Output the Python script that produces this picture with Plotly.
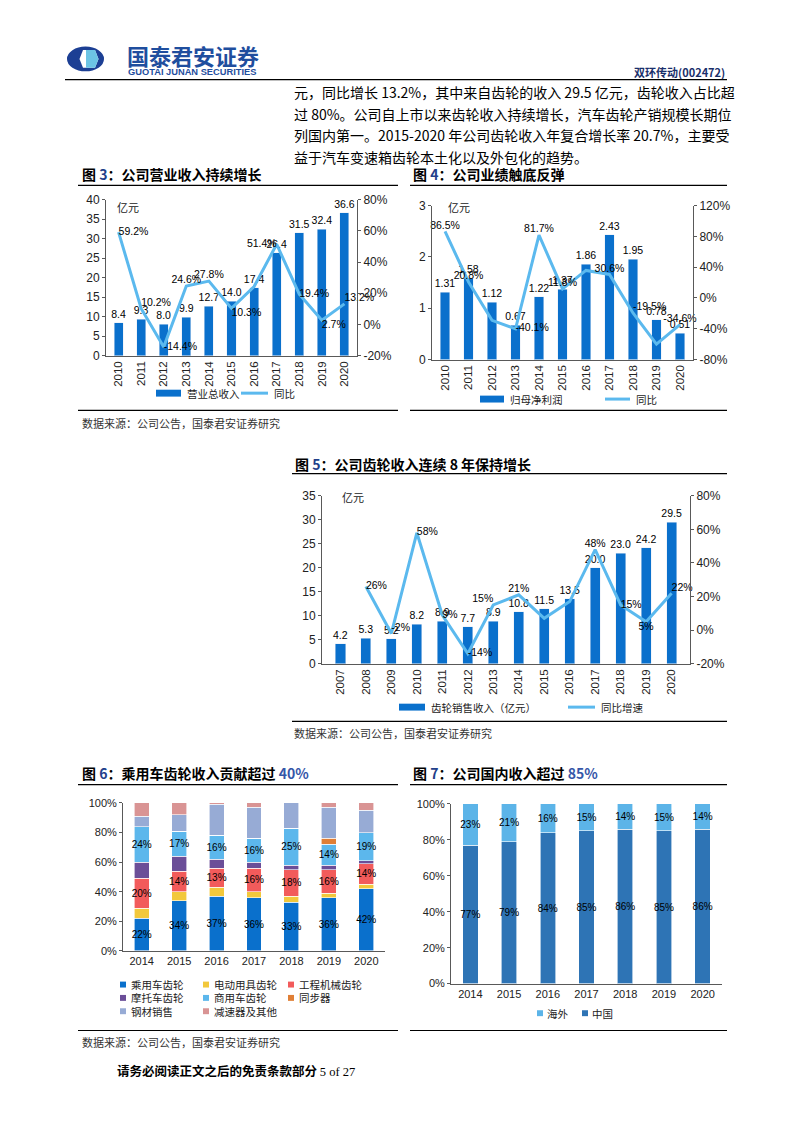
import plotly.graph_objects as go

PAGE_W, PAGE_H = 793, 1122
MARGIN = 8  # default body margin of the html page
W, H = PAGE_W - 2 * MARGIN, PAGE_H - 2 * MARGIN


def px(x):
    return (x - MARGIN) / W


def py(y):
    return 1 - (y - MARGIN) / H


# ---------------- data ----------------
years_a = [str(y) for y in range(2010, 2021)]
revenue = [8.4, 9.3, 8.0, 9.9, 12.7, 14.0, 17.4, 26.4, 31.5, 32.4, 36.6]
revenue_yoy = [59.2, 10.2, -14.4, 24.6, 27.8, 10.3, 24.3, 51.4, 19.4, 2.7, 13.2]
revenue_yoy_hidden = ["2016"]

profit = [1.31, 1.58, 1.12, 0.67, 1.22, 1.37, 1.86, 2.43, 1.95, 0.78, 0.51]
profit_yoy = [86.5, 20.8, -29.1, -40.1, 81.7, 11.8, 35.8, 30.6, -19.5, -60.0, -34.6]
profit_yoy_hidden = ["2012", "2016", "2019"]

years_b = [str(y) for y in range(2007, 2021)]
gear = [4.2, 5.3, 5.2, 8.2, 8.9, 7.7, 8.9, 10.8, 11.5, 13.5, 20.0, 23.0, 24.2, 29.5]
gear_yoy = [None, 26, -2, 58, 9, -14, 15, 21, 7, 17, 48, 15, 5, 22]
gear_yoy_hidden = ["2016"]

years_c = [str(y) for y in range(2014, 2021)]
passenger = [22, 34, 37, 36, 33, 36, 42]
power_tool = [7, 6, 6, 4, 4, 3, 3]
construction = [20, 14, 13, 16, 18, 16, 14]
motorcycle = [11, 10, 6, 4, 3, 3, 2]
commercial = [24, 17, 16, 16, 25, 14, 19]
synchronizer = [0, 0, 0, 0, 0, 4, 0]
steel = [7, 11, 21, 21, 17, 21, 15]
reducer = [9, 8, 1, 3, 0, 3, 5]

domestic = [77, 79, 84, 85, 86, 85, 86]
overseas = [23, 21, 16, 15, 14, 15, 14]

# tick values
ticks_rev = [0, 5, 10, 15, 20, 25, 30, 35, 40]
ticks_rev_pct = [-20, 0, 20, 40, 60, 80]
ticks_profit = [0, 1, 2, 3]
ticks_profit_pct = [-80, -40, 0, 40, 80, 120]
ticks_gear = [0, 5, 10, 15, 20, 25, 30, 35]
ticks_gear_pct = [-20, 0, 20, 40, 60, 80]
ticks_share = [0, 20, 40, 60, 80, 100]

# ---------------- style ----------------
CJK = "Noto Sans CJK SC, sans-serif"
NARROW = "Liberation Sans Narrow, Arial Narrow, Liberation Sans, Arial, sans-serif"
SANS = "Liberation Sans, Arial, sans-serif"
BAR = "#0A70CC"
LINE = "#5BB9EE"
AXC = "#595959"

fig = go.Figure()


def pct_labels(vals, cats, hidden, fmt):
    out = []
    for v, c in zip(vals, cats):
        if v is None or c in hidden:
            out.append("")
        else:
            out.append(fmt.format(v) + "%")
    return out


def bar_trace(x, y, xa, ya, fmt):
    return go.Bar(x=x, y=y, xaxis=xa, yaxis=ya, marker_color=BAR, width=0.4,
                  text=[fmt.format(v) for v in y], textposition="outside",
                  constraintext="none", cliponaxis=False, textangle=0,
                  textfont=dict(family=NARROW, size=10.5, color="#000"),
                  showlegend=False, name="")


def line_trace(x, y, xa, ya, labels, positions):
    return go.Scatter(x=x, y=y, xaxis=xa, yaxis=ya, mode="lines+text",
                      line=dict(color=LINE, width=3), text=labels,
                      textposition=positions, cliponaxis=False,
                      textfont=dict(family=NARROW, size=10.5, color="#000"),
                      showlegend=False, connectgaps=False, name="")


# Chart 3
fig.add_trace(bar_trace(years_a, revenue, "x", "y", "{:.1f}"))
fig.add_trace(line_trace(years_a, revenue_yoy, "x", "y2",
                         pct_labels(revenue_yoy, years_a, revenue_yoy_hidden, "{:.1f}"),
                         ["middle right", "top right", "middle right", "top center", "top center",
                          "bottom right", "top center", "middle left", "middle right",
                          "bottom right", "top right"]))
# Chart 4
fig.add_trace(bar_trace(years_a, profit, "x2", "y3", "{:.2f}"))
fig.add_trace(line_trace(years_a, profit_yoy, "x2", "y4",
                         pct_labels(profit_yoy, years_a, profit_yoy_hidden, "{:.1f}"),
                         ["top center", "top center", "top center", "middle right", "top center",
                          "top center", "top center", "top center", "top right",
                          "top center", "top center"]))
# Chart 5
fig.add_trace(bar_trace(years_b, gear, "x3", "y5", "{:.1f}"))
fig.add_trace(line_trace(years_b, gear_yoy, "x3", "y6",
                         pct_labels(gear_yoy, years_b, gear_yoy_hidden, "{:.0f}"),
                         ["middle right", "middle right", "top right", "middle right", "middle right",
                          "middle right", "top left", "top center", "bottom center", "top center",
                          "top center", "middle right", "bottom center", "top right"]))

# Chart 6 stacked
seg_names = ["乘用车齿轮", "电动用具齿轮", "工程机械齿轮", "摩托车齿轮", "商用车齿轮", "同步器", "钢材销售", "减速器及其他"]
seg_values = [passenger, power_tool, construction, motorcycle, commercial, synchronizer, steel, reducer]
seg_colors = ["#0A70CC", "#F2C83C", "#F25B5B", "#6B4E98", "#5CB7EC", "#E07F36", "#97ABD5", "#D99494"]
seg_labelled = {"乘用车齿轮", "工程机械齿轮", "商用车齿轮"}
for name, vals, col in zip(seg_names, seg_values, seg_colors):
    fig.add_trace(go.Bar(
        x=years_c, y=vals, xaxis="x4", yaxis="y7", name=name, marker_color=col,
        marker_line=dict(width=0.6, color="#ffffff"), width=0.4,
        text=[f"{v}%" if name in seg_labelled else "" for v in vals],
        textposition="inside", insidetextanchor="middle", textangle=0, constraintext="none",
        textfont=dict(family=SANS, size=10, color="#000"), showlegend=False))

# Chart 7 stacked
fig.add_trace(go.Bar(x=years_c, y=domestic, xaxis="x5", yaxis="y8", name="中国",
                     marker_color="#2E74B5", marker_line=dict(width=0.6, color="#ffffff"), width=0.4,
                     text=[f"{v}%" for v in domestic], textposition="inside",
                     insidetextanchor="middle", textangle=0, constraintext="none",
                     textfont=dict(family=SANS, size=10, color="#000"), showlegend=False))
fig.add_trace(go.Bar(x=years_c, y=overseas, xaxis="x5", yaxis="y8", name="海外",
                     marker_color="#5CB4E8", marker_line=dict(width=0.6, color="#ffffff"), width=0.4,
                     text=[f"{v}%" for v in overseas], textposition="inside",
                     insidetextanchor="middle", textangle=0, constraintext="none",
                     textfont=dict(family=SANS, size=10, color="#000"), showlegend=False))

# ---------------- axes ----------------
base = dict(showline=True, linecolor=AXC, linewidth=1, showgrid=False, zeroline=False,
            ticks="outside", ticklen=3, tickcolor=AXC, fixedrange=True)


def xcat(dom, anchor, angle, font):
    d = dict(base)
    d.update(domain=[px(dom[0]), px(dom[1])], anchor=anchor, type="category",
             tickangle=angle, ticks="", tickfont=font)
    return d


def yval(dom, anchor, tickvals, suffix="", font=None, side="left", overlay=None):
    d = dict(base)
    d.update(range=[tickvals[0], tickvals[-1]], tickvals=tickvals,
             ticktext=[f"{v}{suffix}" for v in tickvals], anchor=anchor, side=side,
             tickfont=font or dict(family=NARROW, size=12, color="#222"))
    if overlay:
        d["overlaying"] = overlay
    else:
        d["domain"] = [py(dom[0]), py(dom[1])]
    return d


tf_year = dict(family=NARROW, size=11.5, color="#222")
tf_sans = dict(family=SANS, size=11, color="#222")

fig.update_layout(
    xaxis=xcat((106, 357), "y", -90, tf_year),
    yaxis=yval((353, 195), "x", ticks_rev),
    yaxis2=yval(None, "x", ticks_rev_pct, "%", side="right", overlay="y"),
    xaxis2=xcat((432, 693), "y3", -90, tf_year),
    yaxis3=yval((357, 201), "x2", ticks_profit),
    yaxis4=yval(None, "x2", ticks_profit_pct, "%", side="right", overlay="y3"),
    xaxis3=xcat((322, 690), "y5", -90, tf_year),
    yaxis5=yval((665, 495), "x3", ticks_gear),
    yaxis6=yval(None, "x3", ticks_gear_pct, "%", side="right", overlay="y5"),
    xaxis4=xcat((123, 385), "y7", 0, tf_sans),
    yaxis7=yval((956, 806), "x4", ticks_share, "%", font=tf_sans),
    xaxis5=xcat((451, 722), "y8", 0, tf_sans),
    yaxis8=yval((989, 807), "x5", ticks_share, "%", font=tf_sans),
)

# ---------------- page decorations ----------------
shapes = []
annotations = []


def hline(x0, x1, y, w=1.2, color="#000"):
    shapes.append(dict(type="line", xref="paper", yref="paper", x0=px(x0), x1=px(x1),
                       y0=py(y), y1=py(y), line=dict(color=color, width=w)))


def rect(x0, x1, y0, y1, color):
    shapes.append(dict(type="rect", xref="paper", yref="paper", x0=px(x0), x1=px(x1),
                       y0=py(y0), y1=py(y1), fillcolor=color, line=dict(width=0)))


def txt(x, y, s, size, color="#000", family=CJK, anchor="left"):
    annotations.append(dict(x=px(x), y=py(y), xref="paper", yref="paper", text=s,
                            showarrow=False, xanchor=anchor, yanchor="middle",
                            font=dict(size=size, color=color, family=family)))


def ppath(points):
    parts = []
    for i, (x, y) in enumerate(points):
        parts.append(("M" if i == 0 else "L") + f" {px(x):.5f},{py(y):.5f}")
    return " ".join(parts) + " Z"


# logo
shapes.append(dict(type="circle", xref="paper", yref="paper", x0=px(67), x1=px(104),
                   y0=py(65), y1=py(40), fillcolor="#1C3F94", line=dict(width=0)))
shapes.append(dict(type="path", xref="paper", yref="paper",
                   path=ppath([(83, 43.5), (95, 43.5), (98.5, 52.5), (95, 61.5), (83, 61.5), (79.5, 52.5)]),
                   fillcolor="#FFFFFF", line=dict(width=0)))
shapes.append(dict(type="path", xref="paper", yref="paper",
                   path=ppath([(86, 43.5), (95, 43.5), (98.5, 52.5), (95, 61.5), (86, 61.5)]),
                   fillcolor="#6CC4E4", line=dict(width=0)))

txt(125, 48.5, "<b>国泰君安证券</b>", 22, "#1F4E9E", CJK)
txt(126, 66, "<b>GUOTAI JUNAN SECURITIES</b>", 9.3, "#1F4E9E", SANS)
txt(727, 66, "<b>双环传动(002472)</b>", 11, "#1A2F6B", CJK, anchor="right")
hline(65, 727, 73.5, 1.3)

# paragraph
para = [
    "元，同比增长 13.2%，其中来自齿轮的收入 29.5 亿元，齿轮收入占比超",
    "过 80%。公司自上市以来齿轮收入持续增长，汽车齿轮产销规模长期位",
    "列国内第一。2015-2020 年公司齿轮收入年复合增长率 20.7%，主要受",
    "益于汽车变速箱齿轮本土化以及外包化的趋势。",
]
for i, line in enumerate(para):
    txt(292, 86 + i * 22, line, 14, "#000", CJK)


def title(x, y, pre, num, post, tail=""):
    s = f"<b>{pre}<span style='color:#22408A'>{num}</span>{post}"
    if tail:
        s += f"<span style='color:#3556A8'>{tail}</span>"
    s += "</b>"
    txt(x, y, s, 14, "#000", CJK)


title(80, 169, "图 ", "3", "：公司营业收入持续增长")
title(411, 169, "图 ", "4", "：公司业绩触底反弹")
title(293, 463, "图 ", "5", "：公司齿轮收入连续 8 年保持增长")
title(80, 776, "图 ", "6", "：乘用车齿轮收入贡献超过 ", "40%")
title(411, 776, "图 ", "7", "：公司国内收入超过 ", "85%")

hline(78, 398, 180.5)
hline(410, 727, 180.5)
hline(78, 398, 408.5)
hline(410, 727, 408.5)
hline(292, 727, 472.5)
hline(292, 727, 723.5)
hline(78, 398, 787.5)
hline(410, 727, 787.5)
hline(78, 398, 1036.5)
hline(410, 727, 1036.5)

SRC = "数据来源：公司公告，国泰君安证券研究"
txt(80, 421, SRC, 11, "#333")
txt(292, 735, SRC, 11, "#333")
txt(80, 1048, SRC, 11, "#333")

txt(115, 1077, "<b>请务必阅读正文之后的免责条款部分</b> <span style='font-family:Liberation Serif, serif'>5 of 27</span>",
    12.5, "#000", CJK)

# unit labels
txt(115, 202, "亿元", 11, "#222")
txt(446, 202, "亿元", 11, "#222")
txt(340, 496, "亿元", 11, "#222")


# legends (charts 3-5)
def legend_pair(bar_x0, bar_x1, bar_label, line_x0, line_x1, line_label, y):
    rect(bar_x0, bar_x1, y - 3.5, y + 3.5, BAR)
    txt(bar_x1 + 4, y, bar_label, 10.5, "#222")
    shapes.append(dict(type="line", xref="paper", yref="paper", x0=px(line_x0), x1=px(line_x1),
                       y0=py(y), y1=py(y), line=dict(color=LINE, width=3)))
    txt(line_x1 + 4, y, line_label, 10.5, "#222")


legend_pair(156, 181, "营业总收入", 241, 268, "同比", 391)
legend_pair(480, 504, "归母净利润", 605, 630, "同比", 397)
legend_pair(399, 425, "齿轮销售收入（亿元）", 568, 595, "同比增速", 709)

# chart 6 legend
cols6 = [120, 203, 288]
rows6 = [990, 1003.5, 1017]
for i, (name, col) in enumerate(zip(seg_names, seg_colors)):
    cx = cols6[i % 3]
    cy = rows6[i // 3]
    rect(cx, cx + 6, cy - 3, cy + 3, col)
    txt(cx + 9, cy, name, 10.5, "#222")

# chart 7 legend
rect(537, 543, 1016, 1022, "#5CB4E8")
txt(545, 1019, "海外", 10.5, "#222")
rect(582, 588, 1016, 1022, "#2E74B5")
txt(590, 1019, "中国", 10.5, "#222")

fig.update_layout(
    width=W, height=H, autosize=False,
    margin=dict(l=0, r=0, t=0, b=0, pad=0),
    paper_bgcolor="#FFFFFF", plot_bgcolor="rgba(0,0,0,0)",
    barmode="stack", showlegend=False,
    shapes=shapes, annotations=annotations,
    font=dict(family=SANS, color="#222"),
)

fig.write_html("out.html", config={"displayModeBar": False, "staticPlot": True})
